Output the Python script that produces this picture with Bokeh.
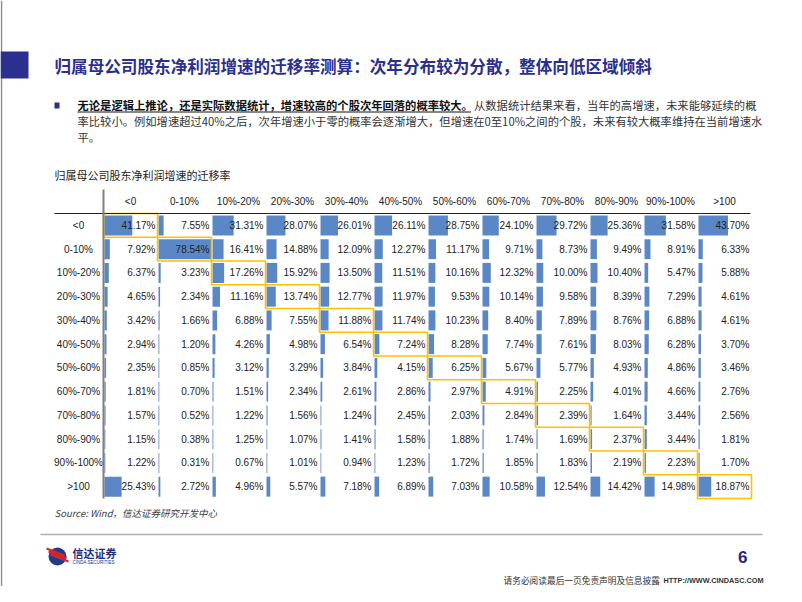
from bokeh.plotting import figure
from bokeh.models import Range1d
from bokeh.core.properties import value
from bokeh.embed import file_html
from bokeh.resources import INLINE

# ---------------- data ----------------
categories = ["<0", "0-10%", "10%-20%", "20%-30%", "30%-40%", "40%-50%",
              "50%-60%", "60%-70%", "70%-80%", "80%-90%", "90%-100%", ">100"]

row_lt0 = [41.17, 7.55, 31.31, 28.07, 26.01, 26.11, 28.75, 24.10, 29.72, 25.36, 31.58, 43.70]
row_0_10 = [7.92, 78.54, 16.41, 14.88, 12.09, 12.27, 11.17, 9.71, 8.73, 9.49, 8.91, 6.33]
row_10_20 = [6.37, 3.23, 17.26, 15.92, 13.50, 11.51, 10.16, 12.32, 10.00, 10.40, 5.47, 5.88]
row_20_30 = [4.65, 2.34, 11.16, 13.74, 12.77, 11.97, 9.53, 10.14, 9.58, 8.39, 7.29, 4.61]
row_30_40 = [3.42, 1.66, 6.88, 7.55, 11.88, 11.74, 10.23, 8.40, 7.89, 8.76, 6.88, 4.61]
row_40_50 = [2.94, 1.20, 4.26, 4.98, 6.54, 7.24, 8.28, 7.74, 7.61, 8.03, 6.28, 3.70]
row_50_60 = [2.35, 0.85, 3.12, 3.29, 3.84, 4.15, 6.25, 5.67, 5.77, 4.93, 4.86, 3.46]
row_60_70 = [1.81, 0.70, 1.51, 2.34, 2.61, 2.86, 2.97, 4.91, 2.25, 4.01, 4.66, 2.76]
row_70_80 = [1.57, 0.52, 1.22, 1.56, 1.24, 2.45, 2.03, 2.84, 2.39, 1.64, 3.44, 2.56]
row_80_90 = [1.15, 0.38, 1.25, 1.07, 1.41, 1.58, 1.88, 1.74, 1.69, 2.37, 3.44, 1.81]
row_90_100 = [1.22, 0.31, 0.67, 1.01, 0.94, 1.23, 1.72, 1.85, 1.83, 2.19, 2.23, 1.70]
row_gt100 = [25.43, 2.72, 4.96, 5.57, 7.18, 6.89, 7.03, 10.58, 12.54, 14.42, 14.98, 18.87]

values = [row_lt0, row_0_10, row_10_20, row_20_30, row_30_40, row_40_50,
          row_50_60, row_60_70, row_70_80, row_80_90, row_90_100, row_gt100]

slide_title = "归属母公司股东净利润增速的迁移率测算：次年分布较为分散，整体向低区域倾斜"
table_title = "归属母公司股东净利润增速的迁移率"
para_bold = "无论是逻辑上推论，还是实际数据统计，增速较高的个股次年回落的概率较大。"
para_l1 = "从数据统计结果来看，当年的高增速，未来能够延续的概"
para_l2 = "率比较小。例如增速超过40%之后，次年增速小于零的概率会逐渐增大，但增速在0至10%之间的个股，未来有较大概率维持在当前增速水"
para_l3 = "平。"
source_text = "Source: Wind，信达证券研究开发中心"
footer_text = "请务必阅读最后一页免责声明及信息披露"
footer_url = "HTTP://WWW.CINDASC.COM"
page_no = "6"

# ---------------- style / layout ----------------
CJK = value("Noto Sans CJK SC")
LAT = value("Liberation Sans")
NAVY = "#2B2F8E"
BAR = "#5A87C6"
GOLD = "#FFC000"

TX0, CW = 103, 54
TY0, RH = 213, 23.75
LABEL_X = 78
HEADER_Y = 201
BAR_MAX = 53.0
vmax = max(max(r) for r in values)

p = figure(width=786, height=586, x_range=Range1d(0, 786), y_range=Range1d(586, 0),
           output_backend="svg", toolbar_location=None,
           x_axis_location=None, y_axis_location=None, min_border=0)
p.grid.visible = False
p.outline_line_color = None
p.background_fill_color = "white"
p.border_fill_color = "white"

# slide frame (left edge)
p.segment(x0=[1], y0=[0], x1=[1], y1=[586], line_color="#8C8C8C", line_width=1.5)

# slide header
p.quad(left=[0], right=[28], top=[51], bottom=[78], fill_color=NAVY, line_color=None)
p.text(x=[54], y=[65], text=[slide_title], text_font=CJK, text_font_size=value("16.6px"),
       text_font_style="bold", text_color=NAVY, text_baseline="middle")

# bullet paragraph
PX = 77
CH = 11.3
p.quad(left=[54], right=[59], top=[102], bottom=[108], fill_color=NAVY, line_color=None)
n_bold = len(para_bold)
p.text(x=[PX], y=[104], text=[para_bold], text_font=CJK, text_font_size=value("11.3px"),
       text_font_style="bold", text_color="#111111", text_baseline="middle")
p.segment(x0=[PX], y0=[111.5], x1=[PX + CH * n_bold - 2], y1=[111.5], line_color="#111111", line_width=1)
p.text(x=[PX + CH * n_bold + 1], y=[104], text=[para_l1], text_font=CJK, text_font_size=value("11.3px"),
       text_color="#333333", text_baseline="middle")
p.text(x=[PX, PX], y=[120, 136], text=[para_l2, para_l3], text_font=CJK,
       text_font_size=value("11.3px"), text_color="#333333", text_baseline="middle")

# table title
p.text(x=[54], y=[174], text=[table_title], text_font=CJK, text_font_size=value("11px"),
       text_color="#222222", text_baseline="middle")

# headers
ncol = len(categories)
hx = [TX0 + CW * (j + 0.5) for j in range(ncol)]
p.text(x=hx, y=[HEADER_Y] * ncol, text=categories, text_font=LAT, text_font_size=value("10px"),
       text_color="#222222", text_align="center", text_baseline="middle")
ry = [TY0 + RH * (i + 0.5) for i in range(len(categories))]
p.text(x=[LABEL_X] * len(categories), y=ry, text=categories, text_font=LAT,
       text_font_size=value("10px"), text_color="#222222", text_align="center",
       text_baseline="middle")

# data bars
bl, br, by, tx, ty, tt = [], [], [], [], [], []
for i, row in enumerate(values):
    for j, v in enumerate(row):
        left = TX0 + CW * j + 1
        bl.append(left)
        br.append(left + max(v / vmax * BAR_MAX, 0.8))
        by.append(ry[i])
        tx.append(TX0 + CW * (j + 1) - 2)
        ty.append(ry[i])
        tt.append(f"{v:.2f}%")
p.hbar(y=by, left=bl, right=br, height=20, fill_color=BAR, line_color=None)
p.text(x=tx, y=ty, text=tt, text_font=LAT, text_font_size=value("10px"),
       text_color="#222222", text_align="right", text_baseline="middle")

# diagonal highlight
n = len(categories)
p.rect(x=[TX0 + CW * (k + 0.5) for k in range(n)], y=ry, width=CW, height=RH,
       fill_color=None, line_color=GOLD, line_width=1.6)

# table rules
p.segment(x0=[54], y0=[TY0], x1=[TX0 + CW * ncol - 1], y1=[TY0], line_color="#222222", line_width=1.2)
p.segment(x0=[TX0], y0=[189], x1=[TX0], y1=[TY0 + RH * n], line_color="#7F7F7F", line_width=2)

# source
p.text(x=[54], y=[512], text=[source_text], text_font=CJK, text_font_size=value("9.5px"),
       text_font_style="italic", text_color="#404040", text_baseline="middle")

# footer
p.segment(x0=[40], y0=[534], x1=[762], y1=[534], line_color="#B0B0B0", line_width=1.5)
p.scatter(x=[57], y=[556], size=18, marker="circle", fill_color="#1F3C8C", line_color=None)
p.segment(x0=[46, 48, 50], y0=[548, 551, 554], x1=[64, 66, 68], y1=[555, 558, 561],
          line_color="#D7262B", line_width=2)
p.text(x=[72], y=[552], text=["信达证券"], text_font=CJK, text_font_size=value("11px"),
       text_font_style="bold", text_color="#1F2F7E", text_baseline="middle")
p.text(x=[72], y=[562], text=["CINDA SECURITIES"], text_font=LAT, text_font_size=value("4.5px"),
       text_color="#1F2F7E", text_baseline="middle")
p.text(x=[747], y=[556], text=[page_no], text_font=LAT, text_font_size=value("17px"),
       text_font_style="bold", text_color="#1F2A7A", text_align="right", text_baseline="middle")
p.text(x=[503], y=[580], text=[footer_text], text_font=CJK, text_font_size=value("8.7px"),
       text_color="#333333", text_baseline="middle")
p.text(x=[763], y=[580], text=[footer_url], text_font=LAT, text_font_size=value("7.3px"),
       text_font_style="bold", text_color="#333333", text_align="right", text_baseline="middle")

open("out.html", "w").write(file_html(p, INLINE))
